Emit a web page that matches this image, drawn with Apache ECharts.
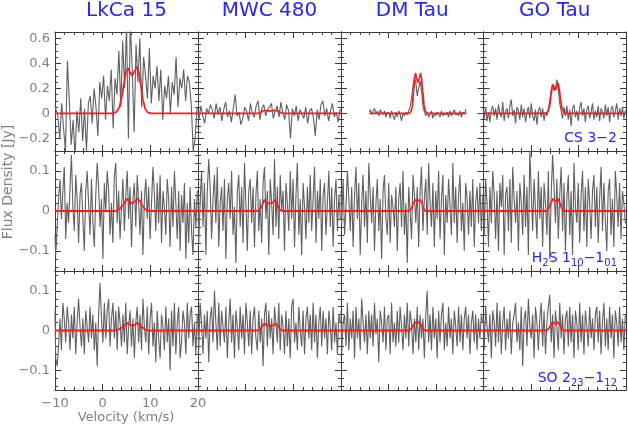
<!DOCTYPE html>
<html><head><meta charset="utf-8">
<script src="https://cdn.jsdelivr.net/npm/echarts@6/dist/echarts.min.js"></script>
<style>html,body{margin:0;padding:0;background:#fff}#c{width:628px;height:426px}</style>
</head><body><div id="c"></div>
<script>
// ---------- data ----------
const sources = ['LkCa 15', 'MWC 480', 'DM Tau', 'GO Tau'];
const velRange = [-10, 20];
const xMajorTicks = [-10, 0, 10, 20];
const xMinorTicks = [-10, -8, -6, -4, -2, 0, 2, 4, 6, 8, 10, 12, 14, 16, 18, 20];
const yRanges = [[-0.3, 0.65], [-0.15, 0.15], [-0.15, 0.15]];
const yMajorTicks = [[-0.2, 0, 0.2, 0.4, 0.6], [-0.1, 0, 0.1], [-0.1, 0, 0.1]];
const yMinorTicks = [
  [-0.3, -0.25, -0.2, -0.15, -0.1, -0.05, 0, 0.05, 0.1, 0.15, 0.2, 0.25, 0.3, 0.35, 0.4, 0.45, 0.5, 0.55, 0.6, 0.65],
  [-0.14, -0.12, -0.1, -0.08, -0.06, -0.04, -0.02, 0, 0.02, 0.04, 0.06, 0.08, 0.1, 0.12, 0.14],
  [-0.14, -0.12, -0.1, -0.08, -0.06, -0.04, -0.02, 0, 0.02, 0.04, 0.06, 0.08, 0.1, 0.12, 0.14]
];

// channel grids: [start velocity, channel width]
const csChannels = [[-10, 0.4], [-10, 0.4], [-4, 0.3], [-10, 0.3]];
const otherChannels = [-10, 0.3];

// CS 3-2
const csLkCa15 = [
  0.06, 0.03, -0.02, -0.2, 0.08, -0.12, -0.3, 0.42, 0.1, -0.25, -0.05, -0.35, 0.02, -0.15, 0.12, -0.22, 0.04, -0.3, 0.08,
  0.14, -0.08, 0.2, 0.05, -0.18, 0.25, 0.12, 0.3, -0.05, 0.22, 0.1, 0.35, -0.12, 0.28, 0.15, 0.5, 0.05, 0.58, 0.2,
  0.7, -0.2, 0.72, 0.35, -0.15, 0.55, 0.25, 0.6, 0.05, 0.45, 0.3, 0.12, 0.52, 0.08, 0.3, 0.2, 0.38, 0.1, 0.35,
  -0.05, 0.22, 0.12, 0.3, 0.0, 0.25, 0.15, 0.45, 0.05, 0.28, 0.2, 0.35, 0.1, 0.3, 0.25, 0.06, -0.3, -0.2, 0.04];
const csMWC480 = [
  0.02, -0.05, 0.06, -0.02, -0.08, 0.04, 0.0, 0.07, 0.03, -0.04, 0.08, -0.01, 0.05, -0.06, 0.03, 0.09, -0.03, 0.02, -0.07,
  0.04, 0.15, -0.02, 0.01, -0.09, -0.04, 0.05, 0.02, -0.06, 0.08, 0.0, -0.03, 0.06, 0.1, -0.05, 0.04, 0.07, -0.02, 0.03,
  0.05, 0.08, -0.04, 0.02, 0.06, -0.03, 0.09, 0.01, -0.05, 0.07, 0.02, -0.2, 0.04, -0.02, 0.06, -0.06, 0.03, 0.0, -0.04,
  0.05, -0.08, 0.02, 0.04, -0.03, -0.18, 0.03, -0.05, 0.07, 0.1, -0.02, 0.04, -0.06, 0.02, 0.08, -0.03, 0.01, -0.07, 0.03];
const csDMTau = [
  0.01, 0.03, -0.01, 0.02, 0.04, 0.0, 0.02, -0.02, 0.03, 0.01, -0.01, 0.02, -0.03, 0.01, 0.0, -0.04, 0.02, -0.02, -0.05, 0.01,
  -0.03, 0.02, -0.01, -0.06, 0.0, -0.02, 0.01, -0.01, 0.02,
  0.05, 0.12, 0.22, 0.28, 0.25, 0.14, 0.2, 0.26, 0.18, 0.06, 0.01,
  -0.02, 0.01, -0.03, -0.01, 0.02, -0.04, 0.0, -0.02, 0.01, -0.01, -0.03, 0.02, -0.02, 0.0, -0.01, 0.01, -0.03, 0.02, -0.02, 0.01,
  0.03, -0.01, 0.0, -0.02, 0.02, -0.03, 0.01, 0.0, 0.03];
const csGOTau = [
  0.02, -0.04, 0.05, -0.06, 0.01, -0.07, 0.03, 0.06, -0.02, 0.04, -0.05, 0.07, 0.0, -0.03, 0.09, -0.06, 0.02, 0.04, -0.04, 0.06,
  0.11, -0.02, 0.03, -0.08, 0.05, 0.02, -0.05, 0.07, -0.03, 0.04, -0.07, 0.01, 0.05, -0.04, 0.08, -0.02, -0.06, 0.03, -0.09, 0.02,
  0.05, -0.03, 0.04, -0.06, 0.01, -0.02, 0.03, 0.1, 0.19, 0.23, 0.18, 0.2, 0.27, 0.2, 0.08, 0.02, -0.04, 0.05, -0.02, 0.06,
  -0.05, 0.03, -0.1, 0.04, 0.07, -0.03, 0.02, -0.06, 0.05, 0.09, -0.02, 0.04, -0.07, 0.03, 0.06, -0.04, 0.01, 0.08, -0.05, 0.02,
  -0.03, 0.06, -0.06, 0.04, 0.01, -0.04, 0.07, -0.02, 0.05, -0.07, 0.03, 0.06, -0.03, 0.02, 0.08, -0.05, 0.04, -0.02, 0.05, -0.04,
  0.02];

// H2S 1_10-1_01
const h2sLkCa15 = [
  -0.06, -0.11, -0.04, 0.03, 0.08, -0.02, 0.05, 0.11, -0.07, 0.02, -0.03, 0.06, 0.14, 0.01, -0.05, 0.09, 0.03, -0.08, 0.04, 0.07,
  -0.02, -0.1, 0.05, 0.1, 0.02, -0.06, 0.08, -0.03, -0.09, 0.04, 0.12, 0.06, -0.04, 0.03, -0.12, 0.07, 0.0, 0.1, 0.05, -0.06,
  0.02, -0.08, 0.09, 0.12, -0.03, 0.05, -0.07, 0.01, 0.08, -0.05, 0.04, 0.1, -0.02, 0.06, -0.09, 0.03, 0.07, -0.04, 0.09, 0.02,
  -0.06, 0.05, -0.11, 0.03, 0.08, -0.02, 0.06, -0.07, 0.02, 0.11, 0.04, -0.05, 0.07, -0.03, 0.09, -0.08, 0.05, 0.01, -0.06, 0.08,
  0.03, -0.09, 0.06, -0.04, 0.1, 0.02, -0.07, 0.05, -0.1, 0.04, -0.03, 0.07, -0.12, 0.02, -0.08, 0.06, -0.05, -0.11, 0.03, -0.04,
  0.05];
const h2sMWC480 = [
  0.04, -0.08, 0.02, 0.1, -0.04, 0.07, -0.11, 0.05, 0.13, 0.06, -0.07, 0.03, 0.09, -0.03, 0.11, -0.09, 0.02, 0.06, -0.05, 0.08,
  -0.12, 0.03, 0.07, -0.02, 0.1, -0.06, 0.01, -0.13, 0.05, 0.09, -0.04, 0.06, -0.08, 0.12, 0.02, -0.1, 0.05, 0.08, -0.03, 0.06,
  -0.09, 0.04, 0.1, -0.05, 0.03, -0.08, 0.07, 0.11, -0.02, 0.05, -0.11, 0.08, 0.02, -0.06, 0.13, -0.04, 0.06, -0.07, 0.09, 0.0,
  0.05, -0.1, 0.07, 0.02, -0.05, 0.1, -0.02, 0.08, -0.09, 0.04, 0.12, -0.06, 0.03, -0.11, 0.07, 0.01, -0.07, 0.06, -0.03, 0.09,
  -0.05, 0.03, 0.11, -0.08, 0.05, -0.02, 0.08, -0.1, 0.04, 0.07, -0.06, 0.02, 0.1, -0.04, 0.06, -0.09, 0.03, 0.08, -0.05, 0.04,
  -0.02];
const h2sDMTau = [
  0.05, -0.03, 0.08, -0.06, 0.01, 0.1, 0.03, -0.05, 0.06, -0.09, 0.04, 0.11, -0.02, 0.07, -0.11, 0.02, 0.09, -0.04, 0.05, -0.08,
  0.12, 0.04, -0.03, 0.06, -0.1, 0.02, 0.08, -0.05, 0.03, -0.12, 0.05, 0.09, -0.02, -0.06, 0.07, -0.08, 0.04, 0.01, -0.04, 0.06,
  -0.1, 0.03, 0.07, -0.04, 0.1, -0.06, 0.02, -0.13, 0.06, 0.0, -0.07, 0.09, 0.04, -0.03, 0.06, -0.09, 0.05, 0.11, -0.05, 0.03,
  0.08, -0.06, 0.12, 0.02, -0.04, 0.07, -0.09, 0.05, -0.02, 0.1, -0.07, 0.03, 0.09, -0.11, 0.04, -0.03, 0.08, 0.01, -0.06, 0.12,
  -0.03, 0.06, -0.08, 0.04, 0.09, -0.05, 0.02, -0.1, 0.07, 0.03, -0.06, 0.05, -0.04, 0.08, -0.09, 0.02, 0.06, -0.03, 0.07, -0.05,
  0.04];
const h2sGOTau = [
  0.03, -0.06, 0.08, 0.02, -0.09, 0.06, -0.03, 0.1, 0.04, -0.07, 0.05, -0.1, 0.07, 0.01, 0.09, -0.11, 0.04, 0.06, -0.05, 0.08,
  -0.08, 0.11, 0.03, -0.03, 0.05, -0.1, 0.07, 0.02, -0.06, 0.09, -0.04, 0.06, -0.11, 0.15, 0.05, -0.05, 0.08, 0.0, -0.07, 0.1,
  -0.02, 0.06, -0.09, 0.07, 0.02, -0.06, 0.1, -0.12, 0.04, 0.14, 0.06, -0.03, 0.08, -0.07, 0.04, 0.11, -0.05, 0.07, -0.1, 0.03,
  0.09, -0.06, 0.05, -0.11, 0.12, 0.01, -0.03, 0.07, -0.08, 0.04, 0.1, -0.05, 0.06, -0.09, 0.08, 0.02, -0.07, 0.05, 0.09, -0.04,
  0.06, -0.08, 0.03, 0.11, -0.05, 0.07, -0.02, -0.1, 0.05, 0.08, -0.06, 0.03, -0.09, 0.1, 0.04, -0.04, 0.07, -0.07, 0.05, 0.02,
  -0.03];

// SO 2_23-1_12
const soLkCa15 = [
  0.05, -0.07, -0.09, -0.04, 0.03, -0.05, 0.07, 0.03, -0.03, 0.06, 0.02, -0.05, 0.04, -0.02, 0.06, -0.06, 0.02, 0.08, 0.01, -0.04,
  0.03, -0.06, 0.05, 0.01, -0.03, 0.06, -0.02, 0.04, -0.05, 0.02, -0.09, 0.04, 0.12, 0.03, -0.03, 0.07, -0.02, 0.05, 0.08, -0.04,
  0.03, 0.07, -0.02, 0.05, -0.05, 0.06, 0.02, -0.04, 0.04, -0.03, 0.07, -0.06, 0.01, 0.05, -0.04, 0.03, -0.07, 0.02, 0.06, -0.03,
  0.04, -0.05, 0.08, 0.01, -0.03, 0.06, -0.06, 0.03, 0.07, -0.04, 0.02, -0.08, 0.05, -0.02, -0.07, 0.04, 0.01, -0.05, 0.06, -0.03,
  0.03, -0.1, 0.05, -0.04, 0.07, -0.06, 0.02, 0.06, -0.07, -0.03, 0.05, 0.02, -0.06, 0.07, -0.02, 0.04, 0.06, -0.04, 0.02, -0.06,
  0.04];
const soMWC480 = [
  0.03, -0.05, 0.07, 0.02, -0.06, 0.04, -0.02, 0.05, -0.08, 0.03, 0.06, -0.03, 0.1, 0.02, -0.05, 0.07, -0.04, 0.05, 0.01, -0.03,
  0.06, -0.07, 0.02, 0.08, -0.03, 0.04, -0.07, 0.05, 0.01, -0.05, 0.06, -0.02, 0.04, -0.06, 0.07, 0.02, -0.04, 0.05, -0.06, 0.03,
  0.06, -0.02, -0.05, 0.05, -0.03, 0.03, -0.09, 0.04, 0.07, -0.04, 0.05, -0.02, 0.03, -0.06, 0.06, 0.02, -0.03, 0.07, -0.05, 0.04,
  0.01, -0.06, 0.05, -0.04, 0.03, -0.07, 0.06, 0.08, -0.03, 0.02, -0.05, 0.06, 0.0, -0.04, 0.05, -0.06, 0.03, 0.06, -0.02, 0.04,
  -0.05, 0.07, -0.03, 0.04, -0.07, 0.02, 0.06, -0.04, 0.05, -0.02, 0.03, -0.06, 0.05, 0.01, -0.05, 0.06, -0.03, 0.02, -0.06, 0.04,
  0.02];
const soDMTau = [
  0.05, -0.06, 0.02, 0.04, -0.04, 0.07, -0.05, 0.03, -0.02, 0.05, -0.07, 0.06, -0.02, 0.03, -0.05, 0.08, 0.02, -0.03, 0.04, -0.06,
  0.05, -0.02, 0.04, -0.04, 0.07, -0.01, 0.03, -0.08, 0.05, 0.02, -0.03, 0.06, -0.05, 0.03, 0.04, -0.06, 0.07, -0.03, 0.02, -0.04,
  0.05, -0.03, 0.06, 0.01, -0.05, 0.04, -0.02, 0.07, -0.04, 0.05, 0.02, -0.06, 0.03, -0.03, 0.06, -0.05, 0.04, -0.02, 0.03, -0.07,
  0.04, 0.1, -0.03, 0.04, -0.05, 0.06, -0.02, 0.03, -0.07, 0.05, -0.03, 0.04, 0.07, -0.05, 0.02, -0.04, 0.06, -0.02, 0.03, -0.06,
  0.05, 0.01, -0.04, 0.06, -0.03, 0.04, -0.05, 0.03, 0.06, -0.02, 0.04, -0.06, 0.02, 0.05, -0.03, 0.04, -0.05, 0.03, -0.02, 0.04,
  0.02];
const soGOTau = [
  0.03, -0.05, 0.06, 0.01, -0.03, 0.04, -0.07, 0.05, 0.02, -0.04, 0.07, -0.03, 0.05, -0.06, 0.02, 0.06, -0.05, 0.03, -0.02, 0.05,
  -0.06, 0.02, 0.04, 0.07, -0.03, 0.02, -0.05, 0.06, -0.09, 0.03, 0.05, -0.04, 0.08, 0.01, -0.02, 0.04, -0.07, 0.06, 0.02, -0.05,
  0.03, 0.07, -0.04, 0.05, -0.06, 0.02, 0.06, 0.09, -0.03, 0.04, -0.07, 0.05, 0.01, -0.05, 0.07, -0.02, 0.04, -0.06, 0.03, 0.05,
  -0.04, 0.06, -0.03, 0.04, -0.07, 0.05, 0.02, -0.05, 0.07, -0.03, 0.04, -0.06, 0.05, 0.01, -0.04, 0.06, -0.02, 0.03, -0.05, 0.04,
  0.06, -0.03, 0.05, -0.06, 0.02, 0.07, -0.04, 0.03, -0.05, 0.06, -0.02, 0.04, -0.07, 0.05, 0.02, -0.04, 0.06, -0.03, 0.03, -0.05,
  0.04];

// model profiles (velocity, flux)
const modelCS = [
  [[-10, 0], [2.0, 0], [2.8, 0.01], [3.4, 0.04], [4.0, 0.12], [4.5, 0.25], [5.0, 0.34], [5.3, 0.36], [5.7, 0.33], [6.2, 0.30], [6.7, 0.34], [7.2, 0.37], [7.6, 0.33], [8.0, 0.22], [8.5, 0.1], [9.0, 0.03], [9.6, 0.005], [10.5, 0], [20, 0]],
  [[-10, 0], [2.6, 0], [3.2, 0.01], [3.7, 0.022], [4.0, 0.025], [4.6, 0.02], [5.2, 0.02], [5.8, 0.022], [6.4, 0.025], [6.9, 0.018], [7.4, 0.006], [7.8, 0], [20, 0]],
  [[-4, 0], [4.3, 0], [4.7, 0.01], [5.0, 0.05], [5.3, 0.18], [5.55, 0.3], [5.7, 0.32], [5.9, 0.28], [6.2, 0.25], [6.5, 0.28], [6.75, 0.32], [6.9, 0.3], [7.2, 0.18], [7.5, 0.06], [7.8, 0.015], [8.2, 0], [16.4, 0]],
  [[-10, 0], [3.0, 0], [3.5, 0.01], [3.9, 0.05], [4.2, 0.14], [4.5, 0.22], [4.65, 0.23], [4.9, 0.2], [5.15, 0.19], [5.4, 0.21], [5.7, 0.24], [5.9, 0.21], [6.2, 0.12], [6.5, 0.04], [6.9, 0.01], [7.3, 0], [20, 0]]
];
const modelH2S = [
  [[-10, 0], [2.6, 0], [3.4, 0.004], [4.2, 0.013], [4.8, 0.025], [5.2, 0.03], [5.7, 0.022], [6.2, 0.019], [6.8, 0.024], [7.3, 0.031], [7.8, 0.025], [8.4, 0.012], [9.0, 0.004], [9.6, 0], [20, 0]],
  [[-10, 0], [2.4, 0], [3.0, 0.004], [3.5, 0.015], [3.9, 0.028], [4.3, 0.02], [5.0, 0.019], [5.7, 0.021], [6.1, 0.028], [6.6, 0.016], [7.1, 0.004], [7.6, 0], [20, 0]],
  [[-10, 0], [4.4, 0], [4.9, 0.008], [5.3, 0.022], [5.7, 0.028], [6.15, 0.026], [6.6, 0.028], [7.0, 0.021], [7.4, 0.006], [7.8, 0], [20, 0]],
  [[-10, 0], [3.3, 0], [3.8, 0.008], [4.2, 0.02], [4.6, 0.03], [5.15, 0.025], [5.7, 0.03], [6.1, 0.02], [6.5, 0.006], [6.9, 0], [20, 0]]
];
const modelSO = [
  [[-10, 0], [2.6, 0], [3.4, 0.003], [4.2, 0.008], [4.8, 0.015], [5.3, 0.019], [5.8, 0.014], [6.3, 0.012], [6.8, 0.015], [7.2, 0.019], [7.7, 0.015], [8.4, 0.007], [9.0, 0.002], [9.6, 0], [20, 0]],
  [[-10, 0], [2.4, 0], [3.0, 0.003], [3.5, 0.01], [3.9, 0.018], [4.4, 0.013], [5.1, 0.012], [5.8, 0.013], [6.3, 0.018], [6.8, 0.01], [7.3, 0.003], [7.8, 0], [20, 0]],
  [[-10, 0], [4.4, 0], [4.9, 0.006], [5.3, 0.016], [5.7, 0.021], [6.05, 0.019], [6.4, 0.021], [6.9, 0.014], [7.3, 0.004], [7.7, 0], [20, 0]],
  [[-10, 0], [3.3, 0], [3.8, 0.006], [4.2, 0.015], [4.6, 0.021], [5.15, 0.017], [5.7, 0.021], [6.1, 0.014], [6.5, 0.004], [6.9, 0], [20, 0]]
];

const spectra = [
  [csLkCa15, csMWC480, csDMTau, csGOTau],
  [h2sLkCa15, h2sMWC480, h2sDMTau, h2sGOTau],
  [soLkCa15, soMWC480, soDMTau, soGOTau]
];
const models = [modelCS, modelH2S, modelSO];

// ---------- layout ----------
const colLeft = [55, 198, 341, 483.5];
const colWidth = [143, 143, 142.5, 142.5];
const rowTop = [32, 151, 271];
const rowHeight = [119, 120, 119];
const AX = '#3a3a3a';
const TXT = '#808080';
const FONT = 'DejaVu Sans';
const BLUE = '#2424ff';

function fmt(v) {
  if (Math.abs(v) < 1e-9) return '0';
  return String(+v.toFixed(2)).replace('-', '\u2212');
}

const grids = [], xAxes = [], yAxes = [], series = [];
for (let r = 0; r < 3; r++) {
  for (let c = 0; c < 4; c++) {
    const g = grids.length;
    grids.push({ left: colLeft[c], top: rowTop[r], width: colWidth[c], height: rowHeight[r], show: false, containLabel: false });
    const showX = (r === 2 && c === 0);
    const showY = (c === 0);
    const xb = { gridIndex: g, type: 'value', min: velRange[0], max: velRange[1], splitLine: { show: false }, animation: false };
    const line = { show: true, onZero: false, lineStyle: { color: AX, width: 1 } };
    const noLine = { show: false, onZero: false };
    ['bottom', 'top'].forEach(pos => {
      xAxes.push(Object.assign({}, xb, {
        position: pos, axisLine: line,
        axisTick: { show: true, inside: true, length: 6, customValues: xMajorTicks, lineStyle: { color: AX, width: 1 } },
        axisLabel: (showX && pos === 'bottom') ? { show: true, customValues: xMajorTicks, formatter: fmt, color: TXT, fontSize: 13, fontFamily: FONT, margin: 7 } : { show: false }
      }));
      xAxes.push(Object.assign({}, xb, {
        position: pos, axisLine: noLine,
        axisTick: { show: true, inside: true, length: 3, customValues: xMinorTicks, lineStyle: { color: AX, width: 1 } },
        axisLabel: { show: false }
      }));
    });
    const yb = { gridIndex: g, type: 'value', min: yRanges[r][0], max: yRanges[r][1], splitLine: { show: false }, animation: false };
    ['left', 'right'].forEach(pos => {
      yAxes.push(Object.assign({}, yb, {
        position: pos, axisLine: line,
        axisTick: { show: true, inside: true, length: 6, customValues: yMajorTicks[r], lineStyle: { color: AX, width: 1 } },
        axisLabel: (showY && pos === 'left') ? { show: true, customValues: yMajorTicks[r], formatter: fmt, color: TXT, fontSize: 13, fontFamily: FONT, margin: 5 } : { show: false }
      }));
      yAxes.push(Object.assign({}, yb, {
        position: pos, axisLine: noLine,
        axisTick: { show: true, inside: true, length: 3, customValues: yMinorTicks[r], lineStyle: { color: AX, width: 1 } },
        axisLabel: { show: false }
      }));
    });
    const ch = r === 0 ? csChannels[c] : otherChannels;
    const vals = spectra[r][c];
    series.push({
      type: 'line', xAxisIndex: 4 * g, yAxisIndex: 4 * g, step: 'middle', showSymbol: false, symbol: 'none',
      data: vals.map((y, i) => [ch[0] + i * ch[1], y]),
      lineStyle: { color: '#606060', width: 1.1 }, clip: true, silent: true, animation: false, z: 2
    });
    series.push({
      type: 'line', xAxisIndex: 4 * g, yAxisIndex: 4 * g, showSymbol: false, symbol: 'none', smooth: 0.3, smoothMonotone: 'x',
      data: models[r][c],
      lineStyle: { color: '#ff1a1a', width: 1.8 }, clip: true, silent: true, animation: false, z: 3
    });
  }
}

const graphics = [];
sources.forEach((s, c) => {
  graphics.push({ type: 'text', x: colLeft[c] + colWidth[c] / 2, y: 11, style: { text: s, fill: BLUE, font: '20px "DejaVu Sans"', textAlign: 'center', textVerticalAlign: 'middle' } });
});
const rich = {
  n: { fontSize: 14, fontFamily: FONT, fill: BLUE, color: BLUE, lineHeight: 20, verticalAlign: 'middle' },
  s: { fontSize: 10, fontFamily: FONT, fill: BLUE, color: BLUE, lineHeight: 20, verticalAlign: 'bottom' }
};
const lineLabels = [
  { text: '{n|CS 3\u22122}', y: 138 },
  { text: '{n|H}{s|2}{n|S 1}{s|10}{n|\u22121}{s|01}', y: 258 },
  { text: '{n|SO 2}{s|23}{n|\u22121}{s|12}', y: 378 }
];
lineLabels.forEach(l => {
  graphics.push({ type: 'text', x: 617, y: l.y, style: { text: l.text, rich: rich, fill: BLUE, font: '14px "DejaVu Sans"', textAlign: 'right', textVerticalAlign: 'middle' } });
});
graphics.push({ type: 'text', x: 8, y: 182, rotation: Math.PI / 2, style: { text: 'Flux Density [Jy]', fill: TXT, font: '14px "DejaVu Sans"', textAlign: 'center', textVerticalAlign: 'middle' } });
graphics.push({ type: 'text', x: 126, y: 418, style: { text: 'Velocity (km/s)', fill: TXT, font: '13px "DejaVu Sans"', textAlign: 'center', textVerticalAlign: 'middle' } });

const chart = echarts.init(document.getElementById('c'), null, { renderer: 'canvas' });
chart.setOption({
  animation: false,
  backgroundColor: '#fff',
  grid: grids,
  xAxis: xAxes,
  yAxis: yAxes,
  series: series,
  graphic: graphics
});
</script>
</body></html>
